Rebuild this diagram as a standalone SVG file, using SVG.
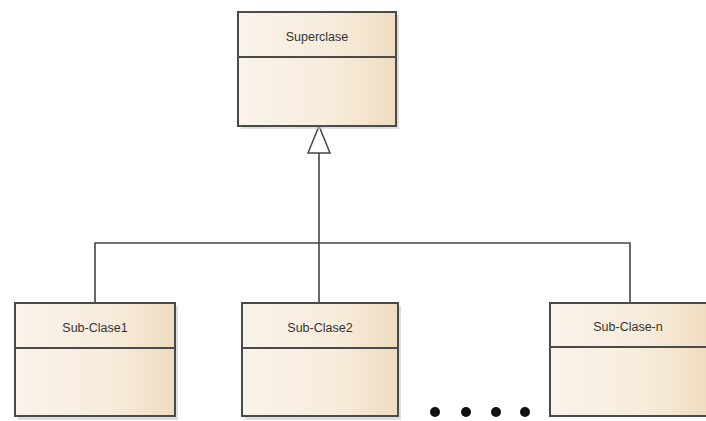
<svg xmlns="http://www.w3.org/2000/svg" width="706" height="421" viewBox="0 0 706 421">
<defs>
<linearGradient id="fill" x1="0" y1="0" x2="1" y2="0">
<stop offset="0" stop-color="#faf3ea"/>
<stop offset="0.6" stop-color="#f7ecdc"/>
<stop offset="1" stop-color="#efdcc0"/>
</linearGradient>
<marker id="gen" viewBox="0 0 30 24" refX="29" refY="12" markerWidth="30" markerHeight="24" markerUnits="userSpaceOnUse" orient="auto">
<path d="M29,12 L2,1 L2,23 Z" fill="#fff" stroke="#444" stroke-width="1.5"/>
</marker>
</defs>
<style>
.box{fill:url(#fill);stroke:#4a4a4a;stroke-width:2}
.shadow{fill:#c8c8c8;opacity:0.6}
.div{stroke:#4a4a4a;stroke-width:2}
.lbl{font-family:"Liberation Sans",Arial,sans-serif;font-size:12.5px;fill:#333;text-anchor:middle}
.conn{fill:none;stroke:#444;stroke-width:1.6}
.dot{fill:#111}
</style>
<rect width="706" height="421" fill="#fff"/>
<g id="connectors">
<path class="conn" d="M319,243 L319,126" marker-end="url(#gen)"/>
<path class="conn" d="M95,303 L95,243 L630,243 L630,303"/>
<path class="conn" d="M319,243 L319,303"/>
</g>
<g id="superclase">
<rect class="shadow" x="241" y="15" width="158" height="114"/>
<rect class="box" x="238" y="12" width="158" height="114"/>
<line class="div" x1="238" y1="57" x2="396" y2="57"/>
<text class="lbl" x="317" y="41">Superclase</text>
</g>
<g id="subclase1">
<rect class="shadow" x="18" y="306" width="160" height="114"/>
<rect class="box" x="15" y="303" width="160" height="113"/>
<line class="div" x1="15" y1="348" x2="175" y2="348"/>
<text class="lbl" x="95" y="332">Sub-Clase1</text>
</g>
<g id="subclase2">
<rect class="shadow" x="245" y="306" width="156" height="114"/>
<rect class="box" x="242" y="303" width="156" height="113"/>
<line class="div" x1="242" y1="348" x2="398" y2="348"/>
<text class="lbl" x="320" y="332">Sub-Clase2</text>
</g>
<g id="subclasen">
<rect class="box" x="550" y="303" width="158" height="113"/>
<line class="div" x1="550" y1="347" x2="706" y2="347"/>
<text class="lbl" x="628" y="331">Sub-Clase-n</text>
</g>
<g id="ellipsis">
<circle class="dot" cx="435" cy="412" r="5"/>
<circle class="dot" cx="466" cy="412" r="5"/>
<circle class="dot" cx="496" cy="412" r="5"/>
<circle class="dot" cx="525" cy="412" r="5"/>
</g>
</svg>
